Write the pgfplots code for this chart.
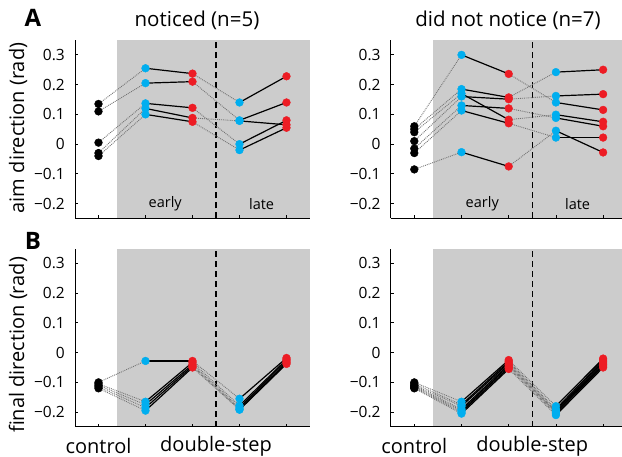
\documentclass[border=0pt]{standalone}
\usepackage{pgfplots}
\pgfplotsset{compat=1.18}
\usepackage{fontspec}
\setmainfont{Open Sans}
\definecolor{cblue}{RGB}{0,174,239}
\definecolor{cred}{RGB}{237,28,36}
\definecolor{bg}{RGB}{204,204,204}
\newcommand\subj[5]{%
  \addplot[dotl] coordinates {(1,#1) (2,#2)};
  \addplot[dotl] coordinates {(3,#3) (4,#4)};
  \addplot[soll] coordinates {(2,#2) (3,#3)};
  \addplot[soll] coordinates {(4,#4) (5,#5)};
  \addplot[mk, black] coordinates {(1,#1)};
  \addplot[mk, cblue] coordinates {(2,#2) (4,#4)};
  \addplot[mk, cred] coordinates {(3,#3) (5,#5)};
}
\newcommand\dline[1]{\draw[line width=1.3pt, dash pattern=on 6pt off 4pt] (axis cs:3.5,-0.25) -- (axis cs:3.5,0.35);}
\pgfplotsset{
  dotl/.style={densely dotted, line width=0.9pt, color=black!55, mark=none},
  soll/.style={solid, line width=1.2pt, color=black, mark=none},
  mk/.style={only marks, mark=*, mark size=3.9pt, mark options={draw=none}},
  panel/.style={
    scale only axis, height=178.5pt,
    ymin=-0.25, ymax=0.35,
    axis x line*=bottom, axis y line*=left,
    axis line style={line width=1pt},
    xtick={1,2,3,4,5}, xticklabels={},
    ytick={-0.2,-0.1,0,0.1,0.2,0.3},
    yticklabels={−0.2,−0.1,0,0.1,0.2,0.3},
    tick align=inside, major tick length=3pt,
    tick style={line width=0.8pt, color=black},
    yticklabel style={font=\fontsize{15.5}{17}\selectfont, inner sep=0pt, xshift=-10pt},
    clip=false, axis on top,
  },
}
\begin{document}
\begin{tikzpicture}
\useasboundingbox (0,0) rectangle (622pt,457pt);
% ---------- A left: noticed
\begin{axis}[panel, at={(75pt,238.5pt)}, anchor=south west, width=235pt, xmin=0.5, xmax=5.5]
\fill[bg] (axis cs:1.4,-0.25) rectangle (axis cs:5.5,0.35);
\dline{}
\node[font=\fontsize{14.5}{16}\selectfont] at (axis cs:2.42,-0.2) {early};
\node[font=\fontsize{14.5}{16}\selectfont] at (axis cs:4.47,-0.2) {late};
\subj{0.135}{0.255}{0.237}{0.14}{0.228}
\subj{0.11}{0.205}{0.21}{0.08}{0.14}
\subj{0.005}{0.137}{0.122}{0.0}{0.08}
\subj{-0.03}{0.12}{0.088}{0.078}{0.065}
\subj{-0.04}{0.10}{0.075}{-0.02}{0.055}
\end{axis}
% ---------- A right: did not notice
\begin{axis}[panel, at={(390.7pt,238.5pt)}, anchor=south west, width=231.3pt, xmin=0.5, xmax=5.4]
\fill[bg] (axis cs:1.4,-0.25) rectangle (axis cs:5.4,0.35);
\dline{}
\node[font=\fontsize{14.5}{16}\selectfont] at (axis cs:2.44,-0.2) {early};
\node[font=\fontsize{14.5}{16}\selectfont] at (axis cs:4.46,-0.2) {late};
\subj{0.06}{0.30}{0.236}{0.14}{0.115}
\subj{0.05}{0.185}{0.157}{0.242}{0.25}
\subj{0.04}{0.17}{0.082}{0.099}{0.075}
\subj{0.01}{0.16}{0.151}{0.162}{0.168}
\subj{-0.015}{0.13}{0.12}{0.088}{0.06}
\subj{-0.03}{0.113}{0.07}{0.022}{0.022}
\subj{-0.085}{-0.027}{-0.075}{0.045}{-0.028}
\end{axis}
% ---------- B left
\begin{axis}[panel, at={(75pt,30pt)}, anchor=south west, width=235pt, xmin=0.5, xmax=5.5]
\fill[bg] (axis cs:1.4,-0.25) rectangle (axis cs:5.5,0.35);
\dline{}
\node[font=\fontsize{20}{22}\selectfont, inner sep=0pt] at ([yshift=-19pt]axis cs:1,-0.25) {control};
\node[font=\fontsize{20}{22}\selectfont, inner sep=0pt] at ([yshift=-19pt]axis cs:3.5,-0.25) {double-step};
\subj{-0.10}{-0.028}{-0.028}{-0.155}{-0.018}
\subj{-0.105}{-0.165}{-0.033}{-0.178}{-0.023}
\subj{-0.11}{-0.175}{-0.04}{-0.185}{-0.028}
\subj{-0.115}{-0.185}{-0.045}{-0.19}{-0.033}
\subj{-0.12}{-0.195}{-0.05}{-0.192}{-0.038}
\end{axis}
% ---------- B right
\begin{axis}[panel, at={(390.7pt,30pt)}, anchor=south west, width=231.3pt, xmin=0.5, xmax=5.4]
\fill[bg] (axis cs:1.4,-0.25) rectangle (axis cs:5.4,0.35);
\dline{}
\node[font=\fontsize{20}{22}\selectfont, inner sep=0pt] at ([yshift=-19pt]axis cs:1,-0.25) {control};
\node[font=\fontsize{20}{22}\selectfont, inner sep=0pt] at ([yshift=-19pt]axis cs:3.5,-0.25) {double-step};
\subj{-0.10}{-0.165}{-0.025}{-0.18}{-0.02}
\subj{-0.105}{-0.175}{-0.03}{-0.19}{-0.025}
\subj{-0.11}{-0.18}{-0.035}{-0.195}{-0.03}
\subj{-0.112}{-0.19}{-0.04}{-0.2}{-0.035}
\subj{-0.115}{-0.195}{-0.045}{-0.2}{-0.04}
\subj{-0.118}{-0.2}{-0.05}{-0.205}{-0.045}
\subj{-0.12}{-0.205}{-0.055}{-0.21}{-0.05}
\end{axis}
% ---------- titles and labels
\node[font=\fontsize{20.5}{22}\selectfont] at (197pt,437pt) {noticed (n=5)};
\node[font=\fontsize{20.5}{22}\selectfont] at (508pt,437pt) {did not notice (n=7)};
\node[font=\fontsize{24}{26}\selectfont\bfseries] at (33pt,439pt) {A};
\node[font=\fontsize{24}{26}\selectfont\bfseries] at (33pt,216pt) {B};
\node[font=\fontsize{20}{22}\selectfont, rotate=90] at (18pt,329pt) {aim direction (rad)};
\node[font=\fontsize{20}{22}\selectfont, rotate=90] at (18pt,112pt) {final direction (rad)};
\end{tikzpicture}
\end{document}
